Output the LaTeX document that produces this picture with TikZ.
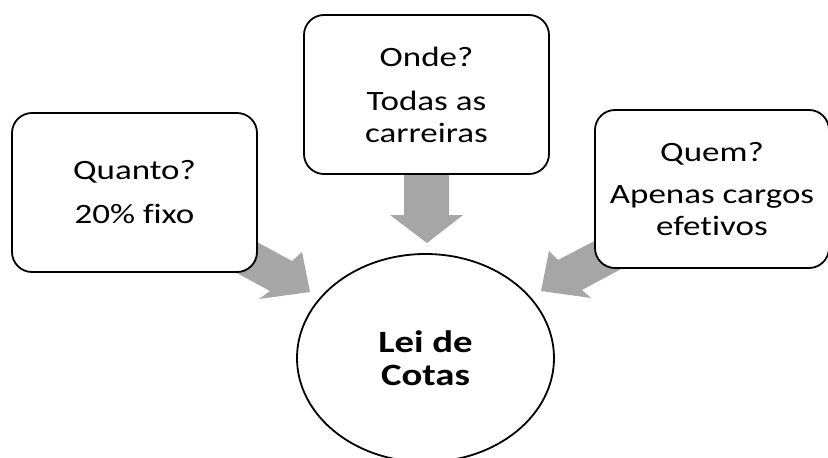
\documentclass[tikz,border=0pt]{standalone}
\usepackage{fontspec}
\setmainfont{Carlito}[FakeStretch=1.25, Ligatures=NoCommon]
\usetikzlibrary{shapes.geometric}
\definecolor{arrowgray}{RGB}{166,166,166}
\tikzset{
  qbox/.style={draw=black, line width=1.8pt, fill=white, rounded corners=20pt, minimum width=#1, align=center, inner sep=0pt},
  txt/.style={font=\fontsize{28}{32}\selectfont},
  blockarrow/.style={fill=arrowgray, draw=none},
  centre/.style={draw=black, line width=1.8pt, fill=white, ellipse, minimum width=257pt, minimum height=208pt, align=center, inner sep=0pt, font=\bfseries\fontsize{31}{33}\selectfont}
}
\begin{document}
\begin{tikzpicture}[x=1pt,y=-1pt]
\useasboundingbox (0,0) rectangle (828,458);
\clip (0,0) rectangle (828,458);
% block arrows (drawn first, tails hidden under boxes)
\fill[blockarrow] (404,150) -- (449,150) -- (449,215) -- (463,215) -- (427,243) -- (390,215) -- (404,215) -- cycle;
\fill[blockarrow] (222,223) -- (292,261) -- (302,252) -- (310,292) -- (259,299) -- (270,291) -- (200,253) -- cycle;
\fill[blockarrow] (629,223) -- (558,260) -- (549,251) -- (541,291) -- (591,298) -- (582,290) -- (651,253) -- cycle;
% boxes
\node[qbox=245pt, minimum height=159pt, txt] (quanto) at (134.5,192.5) {Quanto?\\[12pt]20\% fixo};
\node[qbox=245pt, minimum height=159pt, txt] (onde) at (426.5,94.5) {Onde?\\[12pt]Todas as\\carreiras};
\node[qbox=234pt, minimum height=158pt, txt] (quem) at (712,189) {Quem?\\[10pt]Apenas cargos\\efetivos};
% centre
\node[centre] (lei) at (425.5,358) {Lei de\\Cotas};
\end{tikzpicture}
\end{document}
